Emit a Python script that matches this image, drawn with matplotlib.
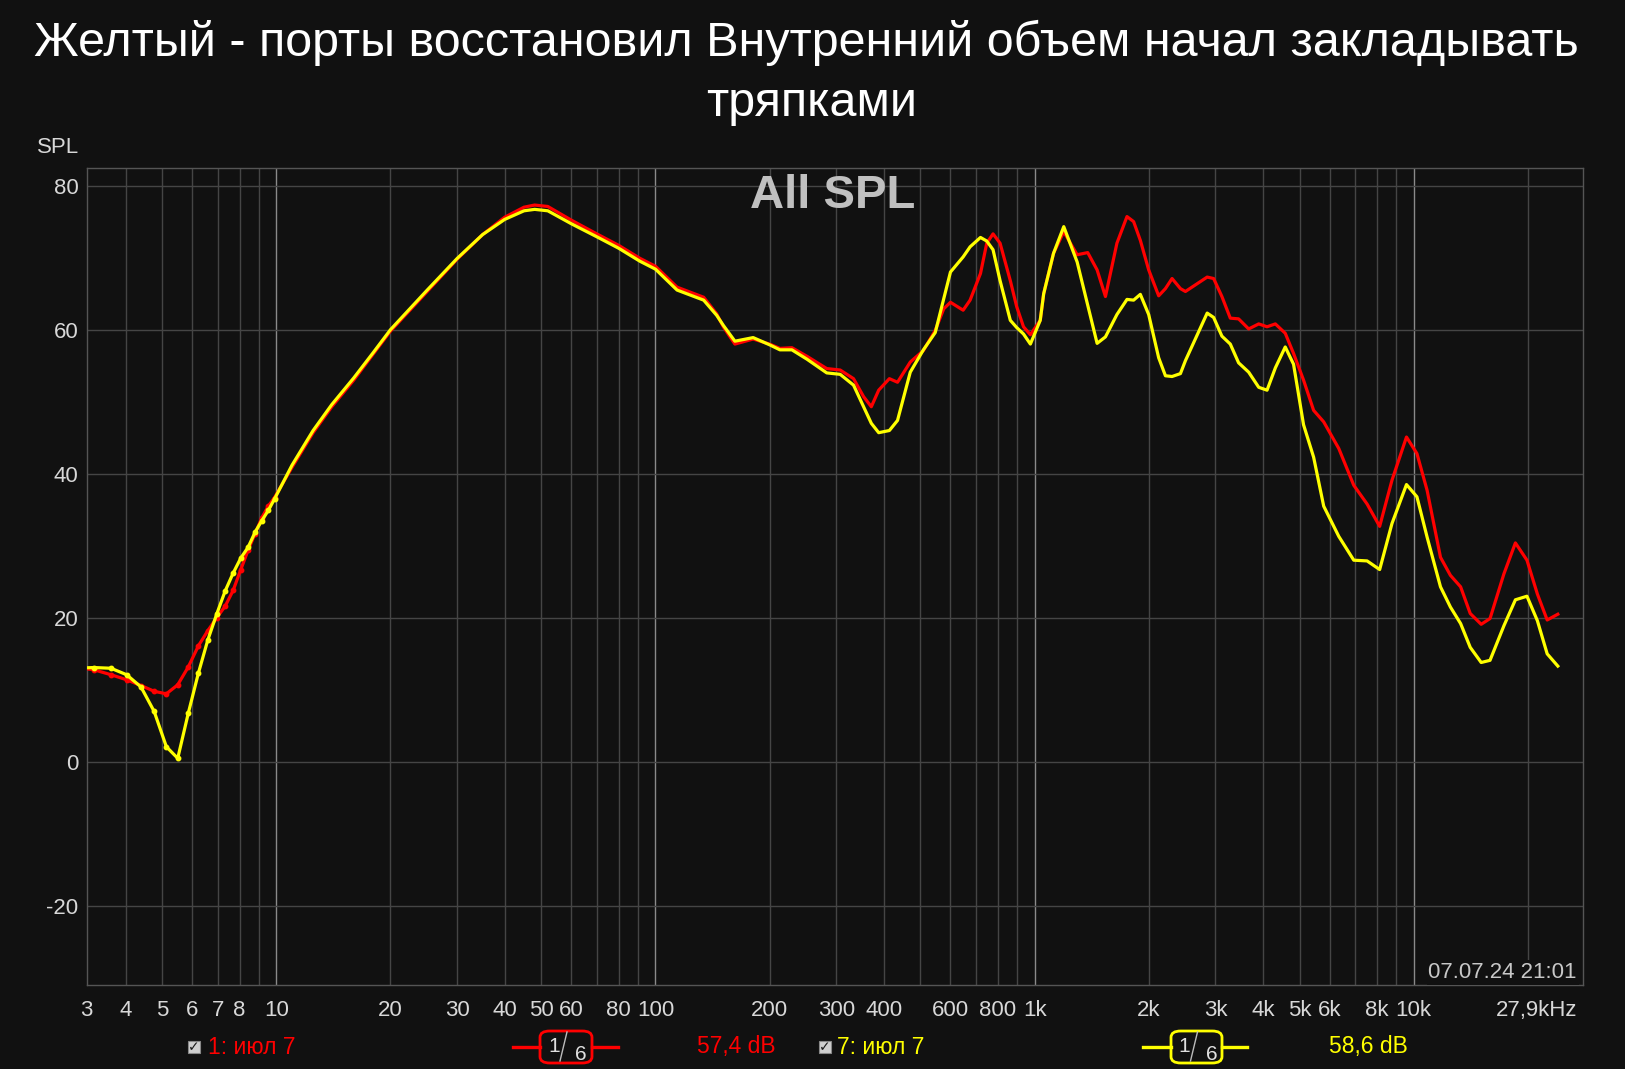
import matplotlib
matplotlib.use("Agg")
import matplotlib.pyplot as plt
from matplotlib.patches import FancyBboxPatch, Rectangle
from matplotlib.lines import Line2D

# ---------------- data ----------------
freq_hz = [2.930, 3.296, 3.662, 4.028, 4.395, 4.761, 5.127, 5.493, 5.859, 6.226,
           6.592, 6.958, 7.324, 7.690, 8.057, 8.423, 8.789, 9.155, 9.521, 9.888,
           11, 12.5, 14, 16, 18, 20, 25, 30, 35, 40, 45, 48, 52, 60, 70, 80, 91, 100,
           114, 134, 145, 151, 162, 181, 200, 213, 229, 251, 283, 307, 333, 354, 371,
           388, 414, 435, 470, 509, 547, 576, 600, 648, 676, 720, 748, 777, 811, 863,
           897, 935, 975, 1035, 1057, 1122, 1194, 1295, 1381, 1462, 1538, 1649, 1753,
           1825, 1901, 2000, 2125, 2214, 2305, 2425, 2500, 2853, 2967, 3120, 3283,
           3453, 3671, 3902, 4104, 4317, 4584, 4821, 5123, 5446, 5790, 6346, 6950,
           7535, 8134, 8766, 9573, 10200, 10850, 11770, 12500, 13300, 14100, 15070,
           15900, 17300, 18550, 19900, 21200, 22500, 24000]

red_db = [13.1, 12.8, 12.1, 11.4, 10.6, 9.8, 9.45, 10.7, 13.2, 16.1,
          18.2, 20.0, 21.6, 23.8, 26.7, 29.4, 31.7, 33.9, 35.5, 36.7,
          40.9, 45.7, 49.3, 53.0, 56.6, 59.8, 65.3, 69.8, 73.2, 75.6, 77.0, 77.3, 77.1,
          75.2, 73.3, 71.7, 69.9, 68.8,
          65.9, 64.5, 62.2, 60.4, 58.0, 58.7, 58.0, 57.4, 57.5, 56.3, 54.6, 54.4, 53.2,
          50.7, 49.3, 51.6, 53.2, 52.7, 55.5, 57.1, 59.9, 62.9, 63.8, 62.7, 64.1, 67.8,
          72.0, 73.3, 72.0, 66.8, 63.2, 60.4, 59.3, 61.3, 65.0, 70.6, 73.6, 70.4, 70.7,
          68.3, 64.6, 72.0, 75.7, 75.0, 72.4, 68.3, 64.7, 65.7, 67.1, 65.7, 65.3, 67.3,
          67.1, 64.6, 61.6, 61.5, 60.1, 60.8, 60.4, 60.8, 59.5, 56.7, 53.0, 48.8, 47.2,
          43.5, 38.4, 35.8, 32.7, 39.1, 45.1, 42.8, 37.7, 28.4, 25.9, 24.3, 20.6, 19.1,
          19.9, 26.1, 30.4, 28.0, 23.3, 19.7, 20.5]

yellow_db = [13.0, 13.1, 13.0, 12.1, 10.4, 7.0, 2.1, 0.5, 6.8, 12.3,
             16.9, 20.5, 23.7, 26.2, 28.3, 29.8, 31.9, 33.5, 34.9, 36.5,
             41.2, 46.0, 49.6, 53.3, 56.8, 60.0, 65.5, 69.9, 73.2, 75.3, 76.5, 76.7, 76.5,
             74.7, 72.9, 71.3, 69.5, 68.4,
             65.5, 64.1, 62.0, 60.6, 58.4, 58.9, 57.9, 57.2, 57.2, 55.9, 54.0, 53.8, 52.3,
             49.3, 47.0, 45.7, 46.0, 47.4, 54.1, 57.2, 59.6, 64.3, 68.0, 70.1, 71.5, 72.8,
             72.3, 71.1, 66.8, 61.3, 60.3, 59.4, 58.0, 61.3, 65.0, 70.6, 74.3, 69.4, 63.4,
             58.1, 59.0, 62.1, 64.2, 64.1, 64.9, 62.1, 56.1, 53.6, 53.5, 53.9, 55.7, 62.3,
             61.7, 59.1, 58.0, 55.4, 54.1, 52.0, 51.6, 54.7, 57.6, 55.2, 46.8, 42.3, 35.5,
             31.3, 28.0, 27.9, 26.7, 33.1, 38.5, 36.8, 31.2, 24.3, 21.5, 19.2, 15.9, 13.8,
             14.1, 18.9, 22.5, 23.0, 19.6, 15.0, 13.3]

n_marked = 20  # FFT bins shown with dots (below 10 Hz)

xtick_values = [3.16, 4, 5, 6, 7, 8, 10, 20, 30, 40, 50, 60, 80, 100, 200, 300, 400,
                600, 800, 1000, 2000, 3000, 4000, 5000, 6000, 8000, 10000]
xtick_labels = ["3", "4", "5", "6", "7", "8", "10", "20", "30", "40", "50", "60", "80",
                "100", "200", "300", "400", "600", "800", "1k", "2k", "3k", "4k", "5k",
                "6k", "8k", "10k"]
ytick_values = [-20, 0, 20, 40, 60, 80]

title_line1 = "Желтый - порты восстановил Внутренний объем начал закладывать"
title_line2 = "тряпками"

# ---------------- style ----------------
BG = "#111111"
FONT = ["Liberation Sans", "DejaVu Sans"]
plt.rcParams["font.family"] = FONT
W, H = 1625, 1069

fig = plt.figure(figsize=(W / 100, H / 100), dpi=100, facecolor=BG)


def fx(x):
    return x / W


def fy(y):
    return 1 - y / H


ax_l, ax_r, ax_t, ax_b = 86.7, 1582.6, 168.3, 984.5
ax = fig.add_axes([fx(ax_l), fy(ax_b), fx(ax_r - ax_l), (ax_b - ax_t) / H])
ax.set_facecolor(BG)
ax.set_xscale("log")
ax.set_xlim(3.16, 27900)
ax.set_ylim(-30.9, 82.4)

# grid
for dec in range(0, 5):
    for m in range(1, 10):
        f = m * 10 ** dec
        if 3.16 < f < 27900:
            if m == 1:
                ax.axvline(f, color="#8a8a8a", lw=1.0, zorder=1)
            else:
                ax.axvline(f, color="#454545", lw=1.0, zorder=1)
for yv in ytick_values:
    ax.axhline(yv, color="#454545", lw=1.0, zorder=1)

for s in ax.spines.values():
    s.set_color("#555555")
    s.set_linewidth(1.0)

ax.set_xticks(xtick_values)
ax.set_xticklabels(xtick_labels)
ax.minorticks_off()
ax.set_yticks(ytick_values)
ax.set_yticklabels([str(v) for v in ytick_values])
ax.tick_params(axis="both", length=0, colors="#d8d8d8", labelsize=16)
ax.tick_params(axis="x", pad=11)
ax.tick_params(axis="y", pad=6)
ax.annotate("27,9kHz", xy=(1.0, 0.0), xycoords="axes fraction", xytext=(-4, -11),
            textcoords="offset points", ha="right", va="top", color="#d8d8d8",
            fontsize=16)

# curves
ax.plot(freq_hz, red_db, color="#ff0000", lw=2.3, zorder=3, solid_joinstyle="round",
        marker="o", markersize=3.2, markevery=list(range(n_marked)))
ax.plot(freq_hz, yellow_db, color="#ffff00", lw=2.3, zorder=4, solid_joinstyle="round",
        marker="o", markersize=3.2, markevery=list(range(n_marked)))

# labels inside plot
ax.text((833 - ax_l) / (ax_r - ax_l), 1 - (174 - ax_t) / (ax_b - ax_t), "All SPL",
        transform=ax.transAxes, ha="center", va="top",
        color="#c0c0c0", fontsize=34, fontweight="bold", zorder=5)
ax.text((1577 - ax_l) / (ax_r - ax_l), 1 - (972 - ax_t) / (ax_b - ax_t), "07.07.24 21:01",
        transform=ax.transAxes, ha="right", va="center", color="#c8c8c8", fontsize=16,
        zorder=5, bbox=dict(facecolor=BG, edgecolor="none", pad=1.5))

fig.text(fx(58), fy(148), "SPL", ha="center", va="center", color="#d8d8d8", fontsize=16)

# title
fig.text(fx(806), fy(56), title_line1, ha="center", va="baseline", color="white",
         fontsize=34.9)
fig.text(fx(812), fy(116), title_line2, ha="center", va="baseline", color="white",
         fontsize=34.9)

# legend row
ly = 1047


def legend_entry(x_chk, x_lbl, label, x_l0, x_b0, x_b1, x_l1, x_val, val, color):
    fig.add_artist(Rectangle((fx(x_chk - 6), fy(ly + 6)), fx(12), 12 / H,
                             transform=fig.transFigure, facecolor="#cfcfcf",
                             edgecolor="#888888", lw=0.8))
    fig.text(fx(x_chk), fy(ly), "✓", ha="center", va="center", color="#1a1a1a",
             fontsize=10, fontweight="bold", family=["DejaVu Sans"])
    fig.text(fx(x_lbl), fy(ly), label, ha="left", va="center", color=color, fontsize=16.5)
    fig.add_artist(Line2D([fx(x_l0), fx(x_b0)], [fy(ly), fy(ly)], color=color, lw=2.4,
                          transform=fig.transFigure))
    fig.add_artist(Line2D([fx(x_b1), fx(x_l1)], [fy(ly), fy(ly)], color=color, lw=2.4,
                          transform=fig.transFigure))
    box = FancyBboxPatch((fx(x_b0), fy(ly + 16)), fx(x_b1 - x_b0), 32 / H,
                         boxstyle="round,pad=0,rounding_size=0.006",
                         transform=fig.transFigure, facecolor=BG, edgecolor=color, lw=2.0)
    fig.add_artist(box)
    cx = (x_b0 + x_b1) / 2
    fig.text(fx(cx - 12), fy(ly), "1", ha="center", va="center", color="#e0e0e0",
             fontsize=15)
    fig.text(fx(cx + 15), fy(ly + 8), "6", ha="center", va="center", color="#e0e0e0",
             fontsize=15)
    fig.add_artist(Line2D([fx(cx + 1), fx(cx - 6)], [fy(ly - 15), fy(ly + 14)],
                          color="#bbbbbb", lw=1.0, transform=fig.transFigure))
    fig.text(fx(x_val), fy(ly), val, ha="left", va="center", color=color, fontsize=16.5)


legend_entry(194, 208, "1: июл 7", 513, 540, 592, 618, 697, "57,4 dB", "#ff0000")
legend_entry(825, 837, "7: июл 7", 1143, 1171, 1222, 1247, 1329, "58,6 dB", "#ffff00")

fig.savefig("out.png", dpi=100, facecolor=BG)
